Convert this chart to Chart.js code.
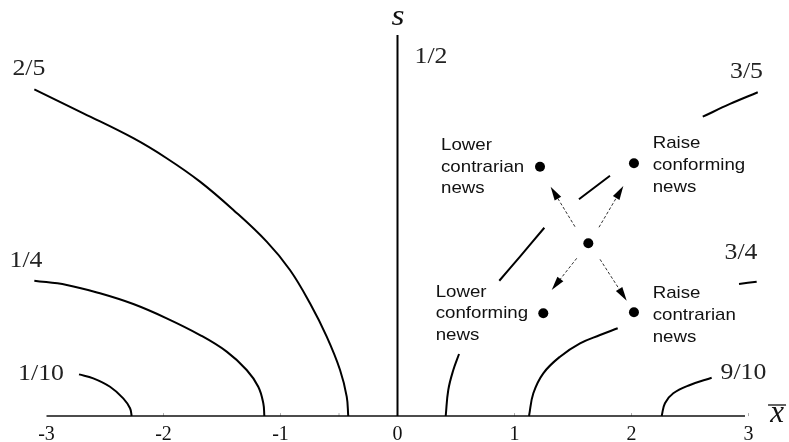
<!DOCTYPE html>
<html>
<head>
<meta charset="utf-8">
<script src="https://cdn.jsdelivr.net/npm/chart.js@4.4.1/dist/chart.umd.min.js"></script>
<style>
  html, body { margin: 0; padding: 0; background: #fff; }
  #wrap { width: 789px; height: 442px; }
</style>
</head>
<body>
<div id="wrap"><canvas id="c" width="789" height="442"></canvas></div>
<script>
// Tick values along the x̄ axis
const xTicks = [-3, -2, -1, 0, 1, 2, 3];
// Small marks sitting on the axis line
const axisMarks = [-2, -1, -0.5, 1, 2, 3];

// Level curves, points as [x̄, s]; each inner list is one drawn piece
const level10 = [[[-2.722, 0.356], [-2.600, 0.322], [-2.457, 0.250], [-2.344, 0.151], [-2.286, 0.066], [-2.272, 0]]];
const level25 = [[[-3.104, 1.156], [-2.827, 1.120], [-2.543, 1.049], [-2.258, 0.957], [-1.973, 0.835], [-1.688, 0.692],
                  [-1.460, 0.550], [-1.289, 0.393], [-1.190, 0.250], [-1.147, 0.109], [-1.138, 0]]];
const level40 = [[[-3.104, 2.792], [-2.685, 2.587], [-2.258, 2.374], [-1.973, 2.203], [-1.688, 2.003], [-1.403, 1.761],
                  [-1.118, 1.490], [-0.919, 1.248], [-0.748, 0.963], [-0.605, 0.678], [-0.491, 0.393], [-0.434, 0.165], [-0.421, 0]]];
const level50 = [[[0, 0], [0, 3.256]]];
const level60 = [
  [[0.412, 0], [0.434, 0.222], [0.477, 0.393], [0.526, 0.530]],
  [[0.870, 1.156], [1.047, 1.362], [1.255, 1.609]],
  [[1.551, 1.852], [1.816, 2.054]],
  [[2.609, 2.558], [2.842, 2.667], [3.079, 2.767]]
];
const level75 = [
  [[1.124, 0], [1.161, 0.194], [1.246, 0.365], [1.389, 0.507], [1.560, 0.621], [1.731, 0.692], [1.882, 0.750]],
  [[2.919, 1.128], [3.070, 1.148]]
];
const level90 = [[[2.258, 0], [2.286, 0.109], [2.357, 0.194], [2.500, 0.265], [2.685, 0.327]]];

// Horizontal axis line
const axisLine = [[-3, 0], [2.97, 0]];

// Marked states: current point and the four shifted points
const statePoints = [[1.631, 1.476], [1.218, 2.131], [2.021, 2.160], [1.246, 0.878], [2.021, 0.886]];

// Arrows from the current point: [start x̄, start s, tip x̄, tip s]
const arrows = [
  [1.517, 1.618, 1.309, 1.960],
  [1.722, 1.613, 1.930, 1.966],
  [1.532, 1.348, 1.318, 1.077],
  [1.731, 1.339, 1.959, 0.985]
];

// Level labels
const levelLabels = ['2/5', '1/4', '1/10', '1/2', '3/5', '3/4', '9/10'];
const levelLabelAt = [[-3.150, 2.983], [-3.175, 1.342], [-3.047, 0.376], [0.286, 3.085], [2.983, 2.957], [2.936, 1.410], [2.957, 0.385]];

// Text blocks beside the shifted points
const noteTexts = [
  ['Lower', 'contrarian', 'news'],
  ['Raise', 'conforming', 'news'],
  ['Lower', 'conforming', 'news'],
  ['Raise', 'contrarian', 'news']
];
const noteAt = [[0.372, 2.274], [2.181, 2.288], [0.326, 1.021], [2.181, 1.007]];

const toXY = pts => pts.map(p => ({ x: p[0], y: p[1] }));

const curveStyle = { showLine: true, borderColor: '#000', borderWidth: 2, pointRadius: 0, tension: 0.4, clip: false, fill: false };
const datasets = [];
[level10, level25, level40, level60, level75, level90].forEach(level => {
  level.forEach(piece => datasets.push(Object.assign({ data: toXY(piece) }, curveStyle)));
});
level50.forEach(piece => datasets.push(Object.assign({ data: toXY(piece) }, curveStyle, { tension: 0, borderWidth: 2 })));
datasets.push({ data: toXY(axisLine), showLine: true, borderColor: '#111', borderWidth: 1.6, pointRadius: 0, tension: 0, clip: false });
datasets.push({ data: axisMarks.map(v => ({ x: v, y: 0.012 })), showLine: false, pointStyle: 'line', rotation: 90,
                pointRadius: 1.5, borderColor: '#aaa', borderWidth: 1, clip: false });
datasets.push({ data: toXY(statePoints), showLine: false, pointRadius: 5, pointHoverRadius: 5,
                pointBackgroundColor: '#000', pointBorderColor: '#000', pointBorderWidth: 0, clip: false });

// Draws the annotations: arrows, level labels, axis names and text blocks
const annotations = {
  id: 'annotations',
  afterDatasetsDraw(chart) {
    const { ctx } = chart;
    const sx = chart.scales.x, sy = chart.scales.y;
    const px = v => sx.getPixelForValue(v), py = v => sy.getPixelForValue(v);
    ctx.save();

    // arrows
    arrows.forEach(a => {
      const x0 = px(a[0]), y0 = py(a[1]), x1 = px(a[2]), y1 = py(a[3]);
      const ang = Math.atan2(y1 - y0, x1 - x0);
      const head = 14, half = 3.8;
      const bx = x1 - head * Math.cos(ang), by = y1 - head * Math.sin(ang);
      ctx.strokeStyle = '#333';
      ctx.lineWidth = 1;
      ctx.setLineDash([3, 2]);
      ctx.beginPath();
      ctx.moveTo(x0, y0);
      ctx.lineTo(bx + 2 * Math.cos(ang), by + 2 * Math.sin(ang));
      ctx.stroke();
      ctx.setLineDash([]);
      ctx.fillStyle = '#000';
      ctx.beginPath();
      ctx.moveTo(x1, y1);
      ctx.lineTo(bx - half * Math.sin(ang), by + half * Math.cos(ang));
      ctx.lineTo(bx + half * Math.sin(ang), by - half * Math.cos(ang));
      ctx.closePath();
      ctx.fill();
    });

    // level labels (centred on the given point)
    ctx.fillStyle = '#222';
    ctx.font = '23px "Liberation Serif"';
    ctx.textAlign = 'center';
    ctx.textBaseline = 'alphabetic';
    levelLabels.forEach((t, i) => {
      const cx = px(levelLabelAt[i][0]), cy = py(levelLabelAt[i][1]);
      ctx.save();
      ctx.translate(cx, cy + 7.8);
      ctx.scale(1.12, 1);
      ctx.fillText(t, 0, 0);
      ctx.restore();
    });

    // axis names
    ctx.fillStyle = '#111';
    ctx.font = 'italic 29px "Liberation Serif"';
    ctx.save();
    ctx.translate(px(0.004), py(3.393) + 6);
    ctx.scale(1.15, 1);
    ctx.fillText('s', 0, 0);
    ctx.restore();
    const xbx = px(3.244), xby = py(0.0085);
    ctx.font = 'italic 31px "Liberation Serif"';
    ctx.fillText('x', xbx, xby + 7);
    ctx.strokeStyle = '#111';
    ctx.lineWidth = 1.3;
    ctx.beginPath();
    ctx.moveTo(xbx - 9, xby - 10);
    ctx.lineTo(xbx + 9, xby - 10);
    ctx.stroke();

    // text blocks
    ctx.fillStyle = '#111';
    ctx.font = '17px "Liberation Sans"';
    ctx.textAlign = 'left';
    noteTexts.forEach((lines, i) => {
      const lx = px(noteAt[i][0]), ly = py(noteAt[i][1]);
      lines.forEach((t, k) => {
        ctx.save();
        ctx.translate(lx, ly + k * 21.7);
        ctx.scale(1.1, 1);
        ctx.fillText(t, 0, 0);
        ctx.restore();
      });
    });
    ctx.restore();
  }
};

new Chart(document.getElementById('c'), {
  type: 'scatter',
  data: { datasets },
  options: {
    responsive: false,
    animation: false,
    events: [],
    layout: { padding: { left: 11.4, right: 5.4, top: 6.5, bottom: 0 } },
    plugins: { legend: { display: false }, tooltip: { enabled: false } },
    scales: {
      x: {
        type: 'linear', min: -3.3, max: 3.3,
        grid: { display: false, drawTicks: false },
        border: { display: false },
        afterBuildTicks: axis => { axis.ticks = xTicks.map(v => ({ value: v })); },
        afterFit: axis => { axis.height = 26; },
        ticks: {
          padding: 6.5,
          color: '#111',
          maxRotation: 0,
          autoSkip: false,
          font: { family: '"Liberation Serif"', size: 20 },
          callback: v => String(v)
        }
      },
      y: { type: 'linear', min: 0, max: 3.5, display: false }
    }
  },
  plugins: [annotations]
});
</script>
</body>
</html>
